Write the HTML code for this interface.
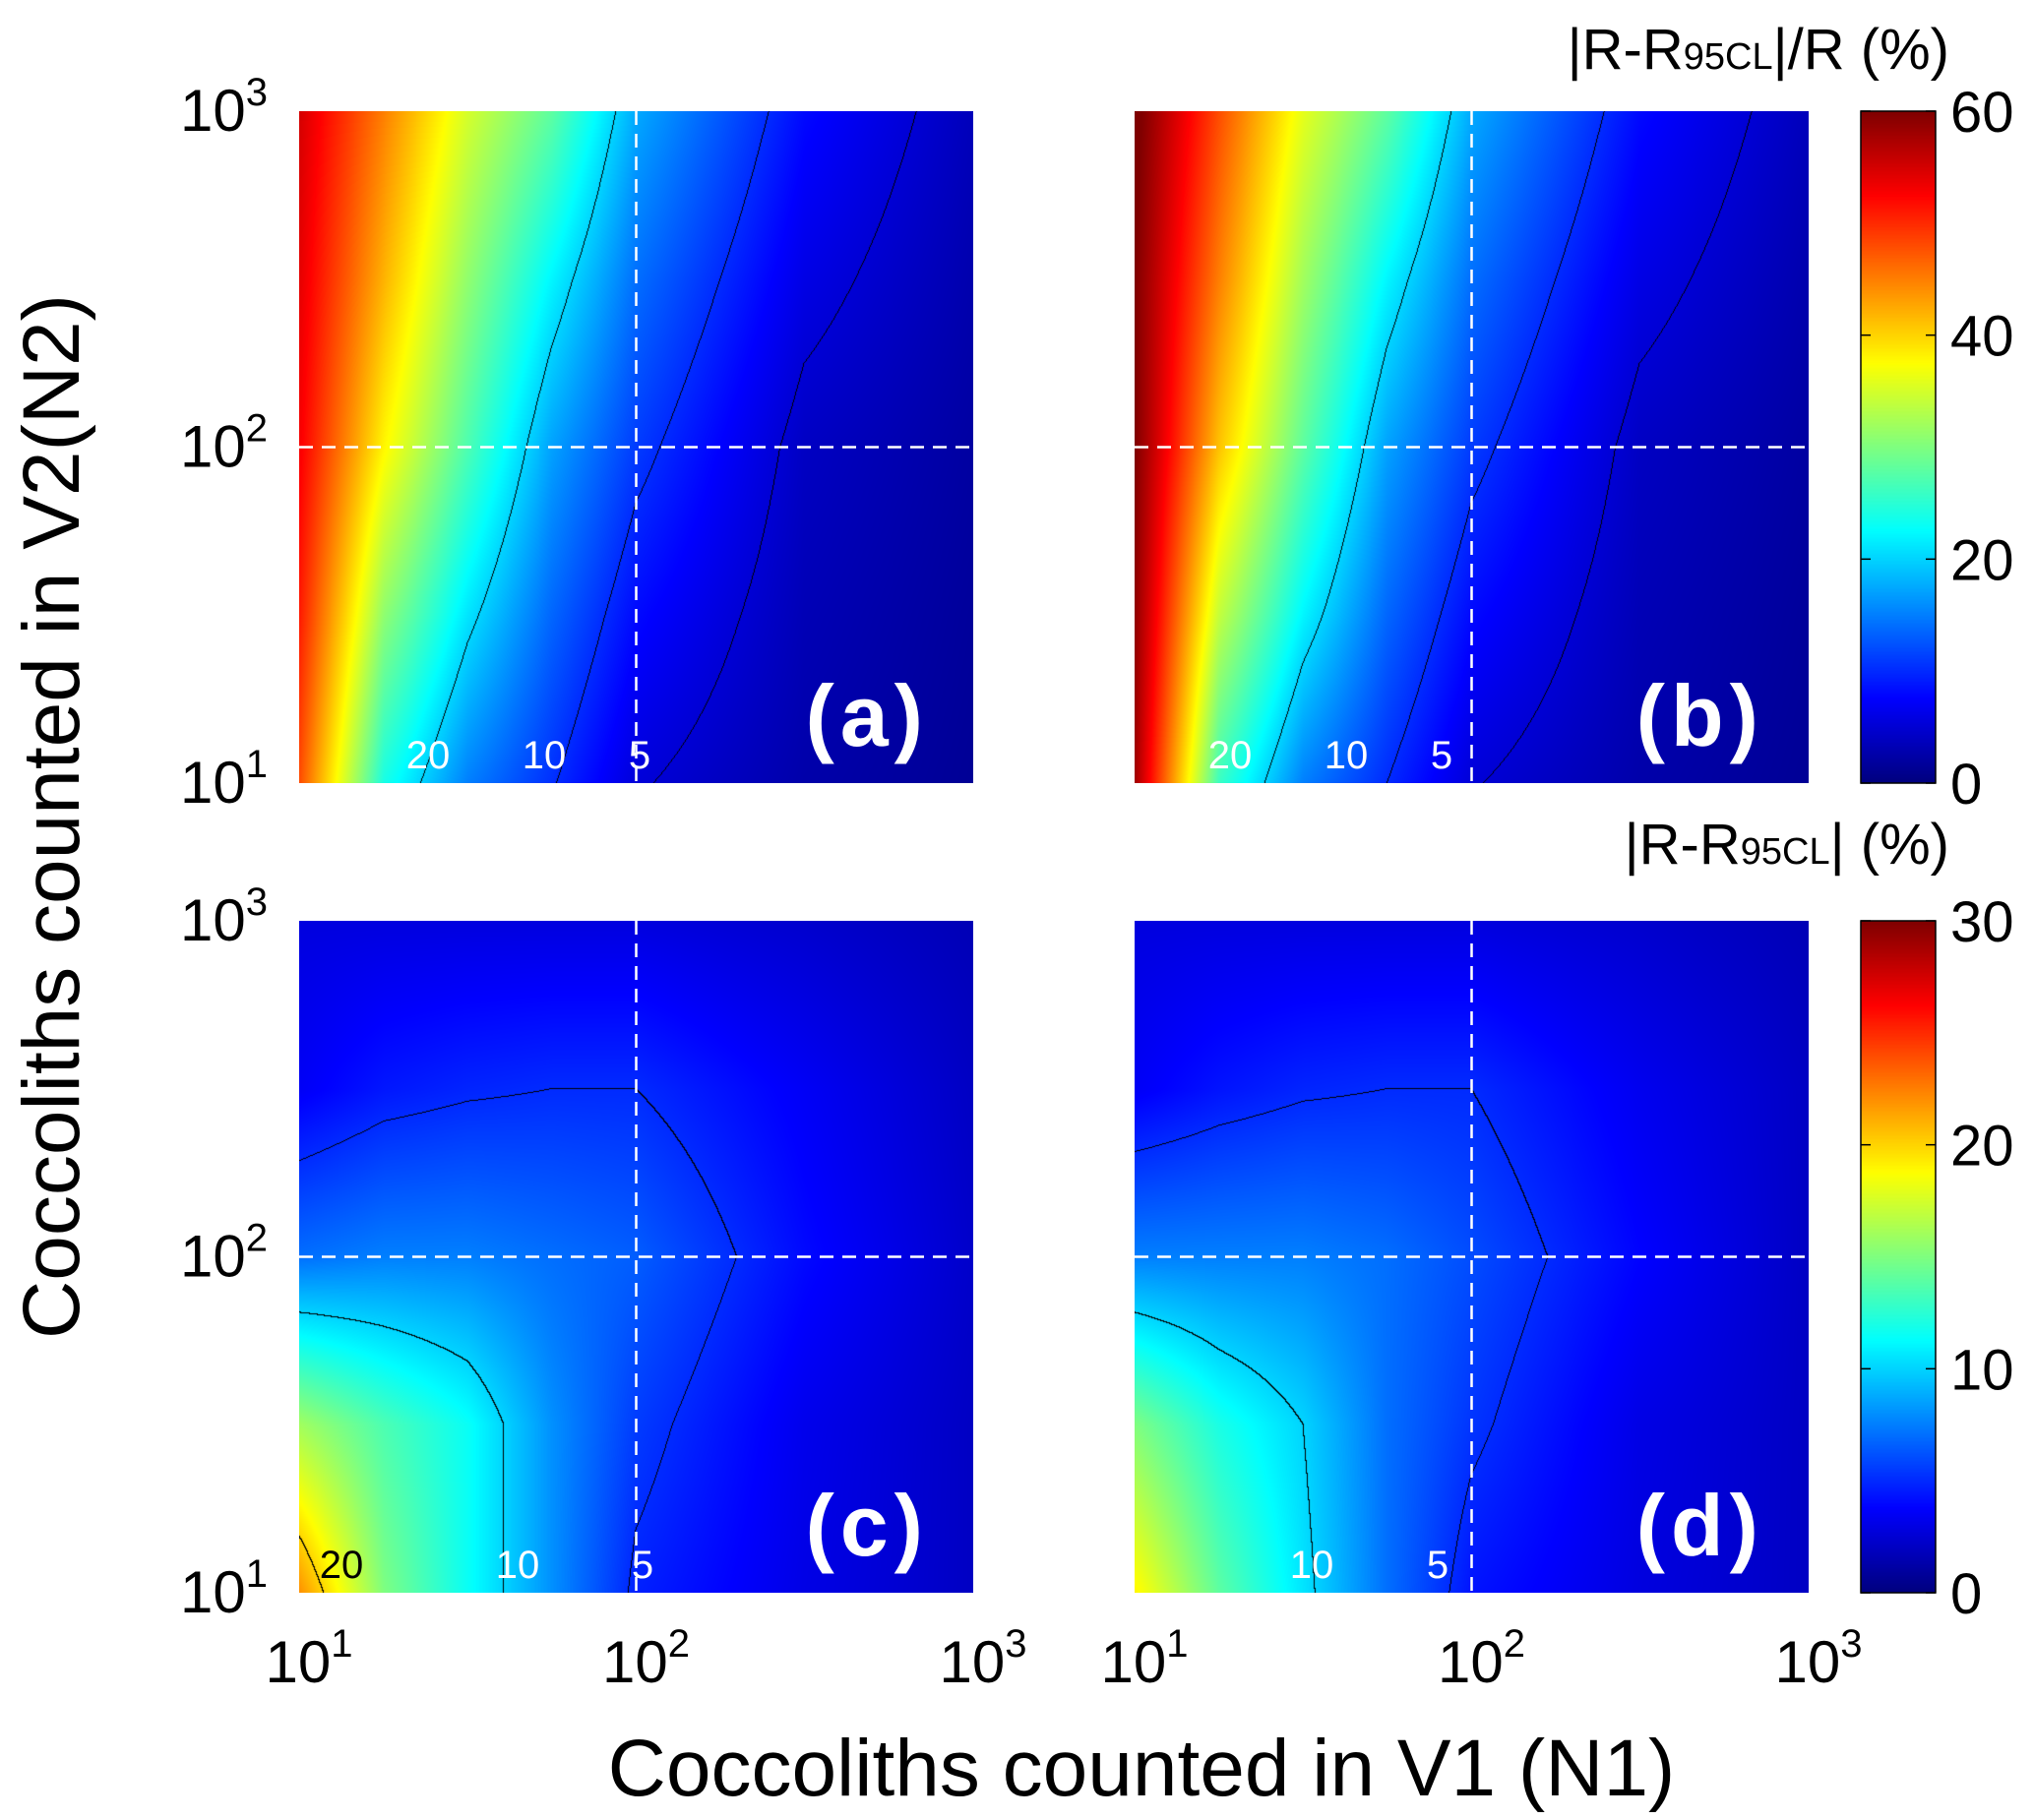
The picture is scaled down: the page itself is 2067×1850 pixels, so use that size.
<!DOCTYPE html>
<html><head><meta charset="utf-8">
<style>
body{margin:0;background:#fff;}
#root{position:relative;width:2067px;height:1850px;overflow:hidden;font-family:"Liberation Sans",sans-serif;}
canvas{position:absolute;}
svg{position:absolute;left:0;top:0;}
</style></head>
<body>
<div id="root">
<canvas id="ca" width="685" height="683" style="left:304px;top:113px"></canvas>
<canvas id="cb" width="685" height="683" style="left:1153px;top:113px"></canvas>
<canvas id="cc" width="685" height="683" style="left:304px;top:936px"></canvas>
<canvas id="cd" width="685" height="683" style="left:1153px;top:936px"></canvas>
<canvas id="cbar1" width="76" height="683" style="left:1891px;top:113px"></canvas>
<canvas id="cbar2" width="76" height="683" style="left:1891px;top:936px"></canvas>
<svg id="ov" width="2067" height="1850"></svg>
</div>
<script>
// sample positions in log10(N1) and log10(N2)
const gridX = [1, 1.25, 1.5, 1.75, 2, 2.5, 3];
const gridY = [1, 1.5, 2, 2.5, 3];
// values, rows bottom (N2=10) to top (N2=1000)
const valuesA = [[48,24,15,10.3,5.3,2.5,1.3],[51,31,21,13.5,8,3.2,1.6],[53,38,27,17,11,4,2],[54,42,31,22,14,6,2.7],[55,45,35,28,17.5,8,3.5]];
const valuesB = [[58,26,15,10,5.2,2.5,1.3],[59,34,22,13.5,8,3.2,1.6],[60,41,28,17,11,4,2],[60,45,32,22,14,6,2.7],[61,48,36,28,17.5,8,3.5]];
const valuesC = [[22,15,11.5,8,4.7,3,2],[16,13.5,11.5,8,5.5,3.2,2],[7,7.5,7.5,7,6.5,4,2.2],[3.5,4.4,4.8,5,5,3.5,2],[2.8,2.8,2.8,2.8,2.8,2.3,1.6]];
const valuesD = [[19,14,10.5,7,4.3,2.8,2],[15,12,10,7,5.3,3,2],[7.5,7.5,7.5,7,6,3.8,2],[3.5,4.3,4.8,5,5,3.3,2],[2.8,2.8,2.8,2.8,2.8,2.3,1.6]];
const levelsTop = [20,10,5];
const levelsC = [20,10,5];
const levelsD = [10,5];
const cbTicks1 = [0,20,40,60];
const cbTicks2 = [0,10,20,30];

function jet(t){t=Math.max(0,Math.min(1,t));
 const r=Math.max(0,Math.min(1,1.5-Math.abs(4*t-3)));
 const g=Math.max(0,Math.min(1,1.5-Math.abs(4*t-2)));
 const b=Math.max(0,Math.min(1,1.5-Math.abs(4*t-1)));
 return [r*255,g*255,b*255];}
function seg(arr,v){let i=0;while(i<arr.length-2&&v>arr[i+1])i++;return [i,(v-arr[i])/(arr[i+1]-arr[i])];}
function interp(vals,lx,ly){
 const [i,fx]=seg(gridX,lx),[j,fy]=seg(gridY,ly);
 const a=vals[j][i],b=vals[j][i+1],c=vals[j+1][i],d=vals[j+1][i+1];
 return a*(1-fx)*(1-fy)+b*fx*(1-fy)+c*(1-fx)*fy+d*fx*fy;}
function drawPanel(id,vals,vmax,levels){
 const cv=document.getElementById(id),ctx=cv.getContext('2d');
 const W=cv.width,H=cv.height,img=ctx.createImageData(W,H);
 const v=new Float32Array(W*H);
 for(let y=0;y<H;y++)for(let x=0;x<W;x++){
  v[y*W+x]=interp(vals,1+2*x/(W-1),3-2*y/(H-1));}
 for(let y=0;y<H;y++)for(let x=0;x<W;x++){
  const k=y*W+x;let c=jet(v[k]/vmax);
  for(const L of levels){
   const s=v[k]>=L;
   if((x<W-1&&(v[k+1]>=L)!==s)||(y<H-1&&(v[k+W]>=L)!==s)){c=[0,0,0];}}
  img.data[k*4]=c[0];img.data[k*4+1]=c[1];img.data[k*4+2]=c[2];img.data[k*4+3]=255;}
 ctx.putImageData(img,0,0);}
drawPanel('ca',valuesA,60,levelsTop);
drawPanel('cb',valuesB,60,levelsTop);
drawPanel('cc',valuesC,30,levelsC);
drawPanel('cd',valuesD,30,levelsD);
function drawBar(id){const cv=document.getElementById(id),ctx=cv.getContext('2d');
 for(let y=0;y<cv.height;y++){const c=jet(1-y/(cv.height-1));ctx.fillStyle=`rgb(${c[0]|0},${c[1]|0},${c[2]|0})`;ctx.fillRect(0,y,cv.width,1);}}
drawBar('cbar1');drawBar('cbar2');

const NS='http://www.w3.org/2000/svg',ov=document.getElementById('ov');
function el(tag,attrs,txt){const e=document.createElementNS(NS,tag);for(const k in attrs)e.setAttribute(k,attrs[k]);if(txt!==undefined)e.textContent=txt;ov.appendChild(e);return e;}
const panels=[{x:304,y:113,n:'a'},{x:1153,y:113,n:'b'},{x:304,y:936,n:'c'},{x:1153,y:936,n:'d'}];
const PW=685,PH=683;
panels.forEach(p=>{
 const lx=el('line',{x1:p.x+PW/2,x2:p.x+PW/2,y1:p.y,y2:p.y+PH,stroke:'#fff','stroke-width':2.5,'stroke-dasharray':'14 9'});
 
 const ly=el('line',{x1:p.x,x2:p.x+PW,y1:p.y+PH/2,y2:p.y+PH/2,stroke:'#fff','stroke-width':2.5,'stroke-dasharray':'14 9'});
 
 const t=el('text',{x:p.x+PW-45,y:p.y+PH-38,'font-size':88,'font-weight':'bold',fill:'#fff','text-anchor':'end','letter-spacing':6},'('+p.n+')');
 
});
const tickExp=['1','2','3'];
[113,936].forEach(py=>{tickExp.forEach((e,i)=>{
 const y=py+PH-i*PH/2;
 const t=el('text',{x:272,y:y+20,'font-size':60,'text-anchor':'end'});
 
 t.innerHTML='10<tspan dy="-26" font-size="40">'+e+'</tspan>';});});
[304,1153].forEach(px=>{tickExp.forEach((e,i)=>{
 const x=px+i*PW/2;
 const t=el('text',{x:x+10,y:1710,'font-size':60,'text-anchor':'middle'});
 
 t.innerHTML='10<tspan dy="-26" font-size="40">'+e+'</tspan>';});});
const cl=[[435,'20',796,'#fff'],[553,'10',796,'#fff'],[650,'5',796,'#fff'],
 [1250,'20',796,'#fff'],[1368,'10',796,'#fff'],[1465,'5',796,'#fff'],
 [347,'20',1619,'#000'],[526,'10',1619,'#fff'],[653,'5',1619,'#fff'],
 [1333,'10',1619,'#fff'],[1461,'5',1619,'#fff']];
cl.forEach(c=>{const t=el('text',{x:c[0],y:c[2]-15,'font-size':40,'text-anchor':'middle',fill:c[3]},c[1]);
 });
function barTicks(top,ticks){ticks.forEach((v,i)=>{
 const y=top+PH-i*PH/(ticks.length-1);
 const t=el('text',{x:1982,y:y+21,'font-size':58},String(v));
 
 el('line',{x1:1891,x2:1901,y1:y,y2:y,stroke:'#000','stroke-width':1.5});
 el('line',{x1:1957,x2:1967,y1:y,y2:y,stroke:'#000','stroke-width':1.5});});
 el('rect',{x:1891,y:top,width:76,height:PH,fill:'none',stroke:'#000','stroke-width':1.5});}
barTicks(113,cbTicks1);barTicks(936,cbTicks2);
let t=el('text',{x:1981,y:70,'font-size':58,'text-anchor':'end'});

t.innerHTML='|R-R<tspan font-size="38">95CL</tspan>|/R (%)';
t=el('text',{x:1981,y:878,'font-size':58,'text-anchor':'end'});

t.innerHTML='|R-R<tspan font-size="38">95CL</tspan>| (%)';
t=el('text',{x:1160,y:1825,'font-size':82,'text-anchor':'middle'},'Coccoliths counted in V1 (N1)');

t=el('text',{x:0,y:0,'font-size':82,'text-anchor':'middle',transform:'translate(80,830) rotate(-90)'},'Coccoliths counted in V2(N2)');

</script>
</body></html>
